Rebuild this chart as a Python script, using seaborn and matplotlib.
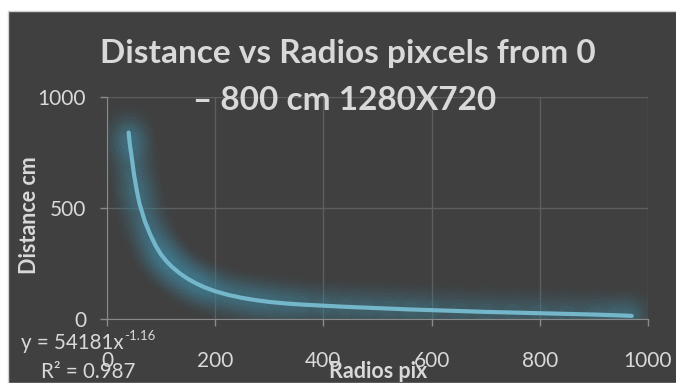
import matplotlib
matplotlib.use("Agg")
import matplotlib.pyplot as plt
import seaborn as sns
import pandas as pd
from matplotlib.patches import Rectangle

# values
radios_pix = [40, 42, 45, 50, 55, 60, 70, 80, 90, 100, 110, 120, 135, 150, 165, 180,
              200, 225, 250, 275, 300, 330, 360, 400, 440, 480, 520, 560, 600, 650,
              700, 750, 800, 850, 900, 940, 970]
distance_cm = [840, 790, 740, 650, 580, 520, 440, 380, 330, 290, 260, 235, 205, 180, 160, 143,
               125, 108, 95, 85, 77, 70, 65, 60, 55, 51, 47, 43, 40, 36,
               32, 29, 26, 23, 20, 17, 14]
x_ticks = [0, 200, 400, 600, 800, 1000]
y_ticks = [0, 500, 1000]

df = pd.DataFrame({"x": radios_pix, "y": distance_cm})

sns.set_style("dark")
plt.rcParams["font.family"] = ["Lato", "DejaVu Sans"]

W, H = 676, 383
fig = plt.figure(figsize=(W / 100, H / 100), dpi=100, facecolor="white")

bg = "#404040"
txt = "#d9d9d9"
fig.patches.append(Rectangle((8 / W, 0), 1, (H - 11) / H, transform=fig.transFigure,
                             facecolor=bg, edgecolor="#d0d0d0", linewidth=1, zorder=-10))

ax = fig.add_axes([107 / W, (H - 319) / H, (648 - 107) / W, (319 - 97) / H])
ax.set_facecolor(bg)
ax.set_zorder(1)

# soft glow around the series
for s, a in [(1500, 0.035), (1100, 0.045), (800, 0.055), (520, 0.07), (300, 0.09), (150, 0.12)]:
    sns.scatterplot(data=df, x="x", y="y", ax=ax, s=s, color="#3f8ca3", alpha=a,
                    edgecolor="none", legend=False, zorder=2)
sns.lineplot(data=df, x="x", y="y", ax=ax, color="#74b6ca", linewidth=3,
             solid_capstyle="round", zorder=3)

ax.set_xlim(0, 1000)
ax.set_ylim(0, 1000)
ax.set_xticks(x_ticks)
ax.set_yticks(y_ticks)
ax.grid(True, color="#5e5e5e", linewidth=1)
for side in ["left", "bottom"]:
    ax.spines[side].set_visible(True)
    ax.spines[side].set_color("#8a8a8a")
for side in ["top", "right"]:
    ax.spines[side].set_visible(False)
ax.tick_params(axis="both", colors="#8a8a8a", length=5, width=1, direction="out",
               labelcolor=txt, labelsize=15, bottom=True, left=True)
ax.tick_params(axis="x", pad=18)
ax.tick_params(axis="y", pad=10)
ax.set_xlabel("")
ax.set_ylabel("")

fig.text(378 / W, 1 - 372 / H, "Radios pix", color=txt, fontsize=15.5, fontweight="bold",
         ha="center", va="center")
fig.text(30 / W, 1 - 215 / H, "Distance cm", color=txt, fontsize=15.5, fontweight="bold",
         ha="center", va="center", rotation=90)

fig.text(348 / W, 1 - 53 / H, "Distance vs Radios pixcels from 0", color=txt, fontsize=24,
         fontweight="bold", ha="center", va="center")
fig.text(345 / W, 1 - 101 / H, "– 800 cm 1280X720", color=txt, fontsize=24,
         fontweight="bold", ha="center", va="center")

fig.text(21 / W, 1 - 343 / H, "y = 54181x", color=txt, fontsize=14.8, ha="left", va="center")
fig.text(124 / W, 1 - 336 / H, "-1.16", color=txt, fontsize=9.5, ha="left", va="center")
fig.text(41 / W, 1 - 372 / H, "R² = 0.987", color=txt, fontsize=14.8, ha="left", va="center")

fig.savefig("out.png", dpi=100, facecolor=fig.get_facecolor())
